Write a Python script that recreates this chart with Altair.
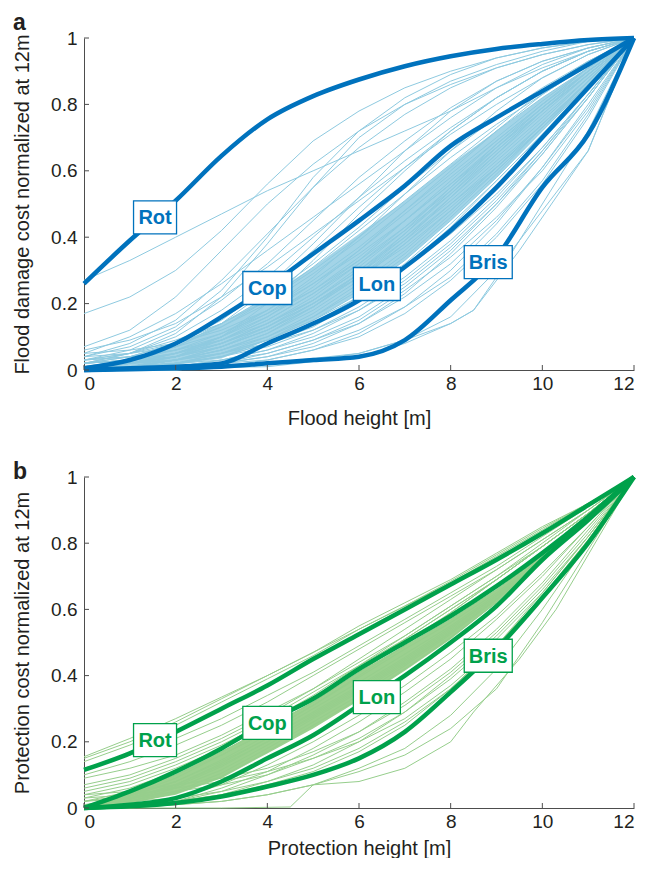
import altair as alt
import pandas as pd

FONT = "Liberation Sans"
XS = list(range(13))

# ---------------- Panel a : flood damage cost ----------------
a_thick = {
    "Rot":  [0.26, 0.39, 0.51, 0.645, 0.755, 0.825, 0.875, 0.915, 0.945, 0.967, 0.982, 0.994, 1.0],
    "Cop":  [0.005, 0.03, 0.08, 0.16, 0.25, 0.35, 0.45, 0.555, 0.675, 0.76, 0.84, 0.92, 1.0],
    "Lon":  [0.0, 0.005, 0.01, 0.02, 0.08, 0.14, 0.21, 0.31, 0.42, 0.55, 0.70, 0.85, 1.0],
    "Bris": [0.0, 0.002, 0.005, 0.01, 0.02, 0.03, 0.04, 0.09, 0.21, 0.34, 0.55, 0.71, 1.0],
}
a_thin = {
    "U1":  [0.27, 0.33, 0.40, 0.47, 0.54, 0.60, 0.66, 0.72, 0.78, 0.85, 0.91, 0.96, 1.0],
    "U2":  [0.17, 0.22, 0.30, 0.42, 0.56, 0.69, 0.78, 0.85, 0.90, 0.94, 0.97, 0.99, 1.0],
    "U3":  [0.07, 0.12, 0.22, 0.36, 0.50, 0.62, 0.72, 0.80, 0.86, 0.91, 0.95, 0.98, 1.0],
    "U4":  [0.04, 0.08, 0.15, 0.27, 0.41, 0.55, 0.67, 0.77, 0.85, 0.91, 0.95, 0.98, 1.0],
    "U5":  [0.05, 0.10, 0.17, 0.26, 0.36, 0.46, 0.56, 0.66, 0.76, 0.85, 0.92, 0.97, 1.0],
    "U6":  [0.03, 0.06, 0.12, 0.21, 0.32, 0.45, 0.58, 0.69, 0.79, 0.87, 0.93, 0.97, 1.0],
    "U7":  [0.02, 0.05, 0.10, 0.18, 0.28, 0.40, 0.52, 0.63, 0.73, 0.82, 0.90, 0.96, 1.0],
    "U8":  [0.06, 0.09, 0.14, 0.22, 0.31, 0.41, 0.51, 0.61, 0.71, 0.80, 0.88, 0.95, 1.0],
    "U9":  [0.01, 0.03, 0.07, 0.14, 0.24, 0.36, 0.49, 0.61, 0.72, 0.82, 0.90, 0.96, 1.0],
    "U10": [0.02, 0.04, 0.08, 0.15, 0.25, 0.38, 0.52, 0.66, 0.78, 0.87, 0.93, 0.97, 1.0],
    "U11": [0.00, 0.01, 0.04, 0.10, 0.20, 0.33, 0.47, 0.60, 0.72, 0.82, 0.90, 0.96, 1.0],
    "U12": [0.03, 0.05, 0.09, 0.14, 0.21, 0.30, 0.40, 0.51, 0.62, 0.73, 0.84, 0.93, 1.0],
    "U13": [0.01, 0.02, 0.05, 0.10, 0.18, 0.28, 0.40, 0.53, 0.66, 0.78, 0.88, 0.95, 1.0],
    "U14": [0.04, 0.07, 0.13, 0.24, 0.40, 0.58, 0.72, 0.82, 0.89, 0.94, 0.97, 0.99, 1.0],
    "U15": [0.02, 0.05, 0.11, 0.22, 0.38, 0.55, 0.70, 0.80, 0.87, 0.92, 0.96, 0.99, 1.0],
    "D1":  [0.00, 0.01, 0.03, 0.07, 0.13, 0.21, 0.30, 0.40, 0.51, 0.63, 0.75, 0.88, 1.0],
    "D2":  [0.01, 0.02, 0.04, 0.08, 0.14, 0.22, 0.32, 0.43, 0.55, 0.67, 0.79, 0.90, 1.0],
    "D3":  [0.00, 0.01, 0.02, 0.05, 0.10, 0.17, 0.26, 0.36, 0.48, 0.61, 0.74, 0.87, 1.0],
    "D4":  [0.02, 0.03, 0.05, 0.09, 0.15, 0.23, 0.33, 0.45, 0.57, 0.69, 0.80, 0.91, 1.0],
    "D5":  [0.00, 0.00, 0.02, 0.04, 0.08, 0.14, 0.22, 0.32, 0.44, 0.57, 0.71, 0.85, 1.0],
    "D6":  [0.01, 0.02, 0.04, 0.07, 0.12, 0.19, 0.28, 0.39, 0.52, 0.65, 0.78, 0.90, 1.0],
    "D7":  [0.00, 0.01, 0.03, 0.06, 0.11, 0.18, 0.27, 0.38, 0.50, 0.62, 0.74, 0.87, 1.0],
    "D8":  [0.03, 0.04, 0.06, 0.10, 0.16, 0.25, 0.36, 0.48, 0.60, 0.72, 0.83, 0.92, 1.0],
    "D9":  [0.00, 0.01, 0.02, 0.04, 0.07, 0.12, 0.19, 0.28, 0.39, 0.52, 0.67, 0.83, 1.0],
    "D10": [0.01, 0.02, 0.05, 0.10, 0.17, 0.26, 0.36, 0.47, 0.58, 0.69, 0.80, 0.90, 1.0],
    "D11": [0.00, 0.01, 0.03, 0.06, 0.10, 0.16, 0.24, 0.34, 0.46, 0.59, 0.73, 0.87, 1.0],
    "D12": [0.02, 0.03, 0.06, 0.11, 0.18, 0.27, 0.37, 0.48, 0.59, 0.70, 0.81, 0.91, 1.0],
    "D13": [0.00, 0.00, 0.01, 0.03, 0.06, 0.11, 0.18, 0.27, 0.38, 0.51, 0.66, 0.82, 1.0],
    "D14": [0.01, 0.02, 0.03, 0.06, 0.11, 0.19, 0.29, 0.41, 0.54, 0.67, 0.79, 0.90, 1.0],
    "D15": [0.00, 0.01, 0.02, 0.05, 0.09, 0.15, 0.23, 0.33, 0.45, 0.58, 0.72, 0.86, 1.0],
    "D16": [0.04, 0.05, 0.07, 0.11, 0.17, 0.24, 0.33, 0.43, 0.54, 0.66, 0.78, 0.89, 1.0],
    "D17": [0.00, 0.01, 0.03, 0.07, 0.12, 0.20, 0.29, 0.39, 0.50, 0.61, 0.73, 0.86, 1.0],
    "D18": [0.01, 0.01, 0.02, 0.04, 0.08, 0.13, 0.21, 0.31, 0.43, 0.57, 0.71, 0.86, 1.0],
    "D19": [0.00, 0.02, 0.05, 0.09, 0.15, 0.23, 0.32, 0.42, 0.53, 0.65, 0.77, 0.89, 1.0],
    "D20": [0.02, 0.03, 0.05, 0.08, 0.13, 0.20, 0.29, 0.40, 0.52, 0.64, 0.76, 0.88, 1.0],
    "D21": [0.00, 0.00, 0.01, 0.02, 0.04, 0.08, 0.14, 0.23, 0.35, 0.49, 0.65, 0.82, 1.0],
    "D22": [0.00, 0.01, 0.02, 0.03, 0.06, 0.10, 0.16, 0.25, 0.36, 0.50, 0.66, 0.83, 1.0],
    "D23": [0.05, 0.06, 0.08, 0.12, 0.18, 0.26, 0.35, 0.45, 0.56, 0.67, 0.78, 0.89, 1.0],
    "D24": [0.01, 0.02, 0.04, 0.08, 0.14, 0.21, 0.30, 0.41, 0.53, 0.66, 0.78, 0.89, 1.0],
    "D25": [0.00, 0.00, 0.01, 0.02, 0.05, 0.09, 0.15, 0.24, 0.34, 0.46, 0.60, 0.78, 1.0],
    "D26": [0.00, 0.00, 0.00, 0.01, 0.03, 0.06, 0.11, 0.19, 0.30, 0.44, 0.61, 0.80, 1.0],
    "D28": [0.00, 0.00, 0.00, 0.01, 0.02, 0.03, 0.05, 0.09, 0.16, 0.30, 0.48, 0.66, 1.0],
    "D30": [0.03, 0.05, 0.08, 0.13, 0.20, 0.29, 0.39, 0.50, 0.61, 0.72, 0.82, 0.91, 1.0],
    "D31": [0.01, 0.03, 0.07, 0.13, 0.21, 0.31, 0.42, 0.53, 0.64, 0.74, 0.83, 0.92, 1.0],
    "D32": [0.02, 0.04, 0.08, 0.14, 0.22, 0.32, 0.43, 0.55, 0.66, 0.76, 0.85, 0.93, 1.0],
    "D33": [0.00, 0.00, 0.01, 0.02, 0.04, 0.07, 0.12, 0.19, 0.28, 0.41, 0.57, 0.77, 1.0],
    "D34": [0.00, 0.01, 0.01, 0.03, 0.05, 0.09, 0.14, 0.22, 0.32, 0.45, 0.61, 0.79, 1.0],
    "D35": [0.00, 0.00, 0.01, 0.02, 0.03, 0.06, 0.10, 0.17, 0.27, 0.40, 0.56, 0.76, 1.0],
    "D36": [0.01, 0.02, 0.03, 0.05, 0.08, 0.12, 0.18, 0.26, 0.37, 0.50, 0.65, 0.82, 1.0],
    "D37": [0.03, 0.04, 0.06, 0.09, 0.14, 0.21, 0.31, 0.42, 0.55, 0.68, 0.80, 0.91, 1.0],
    "D38": [0.00, 0.01, 0.02, 0.04, 0.09, 0.16, 0.25, 0.35, 0.47, 0.60, 0.73, 0.87, 1.0],
    "D39": [0.02, 0.03, 0.04, 0.07, 0.12, 0.19, 0.28, 0.38, 0.49, 0.61, 0.74, 0.87, 1.0],
    "D40": [0.01, 0.01, 0.03, 0.05, 0.09, 0.15, 0.22, 0.31, 0.41, 0.53, 0.67, 0.83, 1.0],
    "D41": [0.00, 0.02, 0.04, 0.08, 0.13, 0.20, 0.28, 0.37, 0.48, 0.60, 0.73, 0.87, 1.0],
    "D42": [0.01, 0.02, 0.04, 0.09, 0.16, 0.24, 0.34, 0.45, 0.56, 0.68, 0.79, 0.90, 1.0],
}
# thin lines with their own x positions
a_thin_x = {
    "D27": ([0, 2, 4, 6, 7, 8, 8.5, 9, 10, 11, 12],
            [0.0, 0.005, 0.02, 0.05, 0.09, 0.14, 0.18, 0.28, 0.50, 0.72, 1.0]),
    "D29": ([0, 4, 6, 7, 8, 8.5, 9.5, 11, 12],
            [0.0, 0.01, 0.04, 0.08, 0.14, 0.18, 0.36, 0.66, 1.0]),
}
# densely packed strip of curves between Cop and Lon
a_band_hi = [0.005, 0.025, 0.07, 0.14, 0.22, 0.31, 0.41, 0.51, 0.62, 0.72, 0.82, 0.91, 1.0]
a_band_lo = [0.0, 0.005, 0.015, 0.035, 0.09, 0.15, 0.23, 0.33, 0.45, 0.58, 0.72, 0.86, 1.0]
a_labels = {"Rot": (1.55, 0.46), "Cop": (4.0, 0.247), "Lon": (6.39, 0.259), "Bris": (8.82, 0.325)}

# ---------------- Panel b : protection cost ----------------
b_thick = {
    "Rot":  [0.115, 0.165, 0.23, 0.30, 0.37, 0.45, 0.525, 0.60, 0.675, 0.75, 0.83, 0.915, 1.0],
    "Cop":  [0.0, 0.05, 0.11, 0.18, 0.26, 0.33, 0.42, 0.50, 0.58, 0.67, 0.77, 0.88, 1.0],
    "Lon":  [0.0, 0.01, 0.03, 0.08, 0.15, 0.22, 0.31, 0.40, 0.50, 0.61, 0.75, 0.87, 1.0],
    "Bris": [0.0, 0.005, 0.015, 0.035, 0.065, 0.10, 0.15, 0.23, 0.35, 0.48, 0.635, 0.80, 1.0],
}
b_thin = {
    "P1":  [0.15, 0.20, 0.26, 0.33, 0.40, 0.47, 0.55, 0.62, 0.69, 0.77, 0.85, 0.92, 1.0],
    "P2":  [0.14, 0.19, 0.25, 0.32, 0.39, 0.46, 0.54, 0.61, 0.685, 0.765, 0.845, 0.92, 1.0],
    "P3":  [0.155, 0.21, 0.27, 0.335, 0.40, 0.47, 0.54, 0.61, 0.68, 0.76, 0.84, 0.92, 1.0],
    "P4":  [0.09, 0.12, 0.16, 0.22, 0.29, 0.36, 0.44, 0.52, 0.61, 0.70, 0.79, 0.89, 1.0],
    "P5":  [0.07, 0.10, 0.15, 0.21, 0.28, 0.36, 0.45, 0.54, 0.63, 0.72, 0.81, 0.90, 1.0],
    "P6":  [0.05, 0.08, 0.13, 0.19, 0.26, 0.34, 0.43, 0.52, 0.61, 0.70, 0.80, 0.90, 1.0],
    "P7":  [0.04, 0.07, 0.12, 0.18, 0.25, 0.33, 0.42, 0.51, 0.60, 0.69, 0.79, 0.89, 1.0],
    "P8":  [0.03, 0.06, 0.11, 0.17, 0.24, 0.32, 0.41, 0.50, 0.59, 0.69, 0.79, 0.89, 1.0],
    "P9":  [0.10, 0.14, 0.19, 0.25, 0.32, 0.40, 0.48, 0.56, 0.64, 0.72, 0.81, 0.90, 1.0],
    "P10": [0.02, 0.05, 0.10, 0.16, 0.23, 0.31, 0.40, 0.49, 0.59, 0.69, 0.79, 0.89, 1.0],
    "P11": [0.12, 0.16, 0.21, 0.27, 0.34, 0.41, 0.49, 0.57, 0.65, 0.73, 0.82, 0.91, 1.0],
    "P12": [0.06, 0.09, 0.14, 0.20, 0.27, 0.35, 0.43, 0.51, 0.60, 0.69, 0.79, 0.89, 1.0],
    "B1":  [0.0, 0.045, 0.10, 0.17, 0.245, 0.32, 0.41, 0.49, 0.57, 0.66, 0.76, 0.875, 1.0],
    "B2":  [0.0, 0.04, 0.09, 0.16, 0.23, 0.31, 0.395, 0.48, 0.56, 0.65, 0.755, 0.87, 1.0],
    "B3":  [0.0, 0.035, 0.08, 0.145, 0.22, 0.30, 0.38, 0.465, 0.55, 0.645, 0.75, 0.87, 1.0],
    "B4":  [0.0, 0.03, 0.07, 0.135, 0.21, 0.29, 0.37, 0.455, 0.545, 0.64, 0.75, 0.87, 1.0],
    "B5":  [0.0, 0.025, 0.065, 0.125, 0.20, 0.28, 0.36, 0.445, 0.535, 0.635, 0.75, 0.87, 1.0],
    "B6":  [0.0, 0.02, 0.06, 0.115, 0.19, 0.27, 0.35, 0.435, 0.53, 0.63, 0.75, 0.87, 1.0],
    "B7":  [0.0, 0.02, 0.05, 0.105, 0.18, 0.26, 0.34, 0.43, 0.525, 0.63, 0.75, 0.87, 1.0],
    "B8":  [0.0, 0.015, 0.045, 0.095, 0.17, 0.25, 0.33, 0.42, 0.515, 0.62, 0.75, 0.87, 1.0],
    "B9":  [0.01, 0.03, 0.07, 0.13, 0.20, 0.275, 0.355, 0.44, 0.53, 0.63, 0.745, 0.87, 1.0],
    "B10": [0.02, 0.04, 0.08, 0.14, 0.21, 0.285, 0.365, 0.45, 0.54, 0.64, 0.75, 0.87, 1.0],
    "L1":  [0.0, 0.01, 0.03, 0.07, 0.13, 0.20, 0.28, 0.37, 0.47, 0.58, 0.71, 0.85, 1.0],
    "L2":  [0.0, 0.01, 0.02, 0.06, 0.11, 0.18, 0.26, 0.35, 0.45, 0.57, 0.70, 0.85, 1.0],
    "L3":  [0.0, 0.01, 0.02, 0.05, 0.10, 0.16, 0.23, 0.32, 0.42, 0.54, 0.68, 0.84, 1.0],
    "L4":  [0.0, 0.01, 0.02, 0.04, 0.08, 0.13, 0.20, 0.29, 0.40, 0.52, 0.66, 0.82, 1.0],
    "L5":  [0.02, 0.03, 0.05, 0.07, 0.10, 0.15, 0.21, 0.29, 0.39, 0.51, 0.65, 0.82, 1.0],
    "L6":  [0.03, 0.04, 0.06, 0.08, 0.11, 0.15, 0.20, 0.27, 0.37, 0.49, 0.64, 0.81, 1.0],
    "L7":  [0.01, 0.02, 0.03, 0.05, 0.08, 0.12, 0.18, 0.26, 0.36, 0.49, 0.64, 0.81, 1.0],
    "L8":  [0.0, 0.005, 0.02, 0.04, 0.07, 0.11, 0.17, 0.25, 0.36, 0.49, 0.65, 0.82, 1.0],
    "L9":  [0.04, 0.05, 0.07, 0.09, 0.12, 0.17, 0.23, 0.31, 0.41, 0.53, 0.67, 0.83, 1.0],
    "K2":  [0.0, 0.0, 0.01, 0.02, 0.04, 0.07, 0.11, 0.16, 0.24, 0.36, 0.56, 0.78, 1.0],
    "K3":  [0.0, 0.003, 0.01, 0.02, 0.04, 0.07, 0.12, 0.18, 0.28, 0.42, 0.60, 0.80, 1.0],
}
b_thin_x = {
    "K1": ([0, 3, 4.5, 5, 6, 7, 8, 8.5, 9.5, 10.3, 12],
           [0.0, 0.0, 0.003, 0.07, 0.08, 0.12, 0.20, 0.29, 0.45, 0.60, 1.0]),
}
# densely packed strip of curves between Cop and Lon
b_band_hi = [0.0, 0.045, 0.10, 0.17, 0.245, 0.32, 0.41, 0.49, 0.57, 0.66, 0.76, 0.875, 1.0]
b_band_lo = [0.0, 0.015, 0.04, 0.09, 0.165, 0.24, 0.325, 0.415, 0.51, 0.62, 0.75, 0.87, 1.0]
b_labels = {"Rot": (1.55, 0.205), "Cop": (4.0, 0.257), "Lon": (6.39, 0.335), "Bris": (8.82, 0.46)}

X_TICKS = [0, 2, 4, 6, 8, 10, 12]
Y_TICKS = [0, 0.2, 0.4, 0.6, 0.8, 1.0]

# ---------------- styling ----------------
W = 550
AXIS_COLOR = "#4d4d4d"
TEXT_COLOR = "#231f20"
BOX_PX = {"Rot": 43, "Cop": 49, "Lon": 47, "Bris": 48}
BOX_H_PX = 33


def lines_df(fixed, custom):
    rows = []
    for name, ys in fixed.items():
        for x, y in zip(XS, ys):
            rows.append({"series": name, "x": x, "y": y})
    for name, (xs, ys) in custom.items():
        for x, y in zip(xs, ys):
            rows.append({"series": name, "x": x, "y": y})
    return pd.DataFrame(rows)


def panel(thin, thin_x, thick, labels, band, thin_color, thick_color, band_color,
          xtitle, ytitle, letter, letter_y, H, x_title_pad):
    xscale = alt.Scale(domain=[0, 12], nice=False, zero=False)
    yscale = alt.Scale(domain=[0, 1], nice=False)
    x_axis = alt.Axis(values=X_TICKS, title=xtitle, ticks=False, grid=False,
                      labelPadding=4, titlePadding=x_title_pad)
    y_axis = alt.Axis(values=Y_TICKS, title=ytitle, ticks=False, grid=False, format="~g",
                      labelPadding=7, titlePadding=18.5)

    def X(f):
        return alt.X(f, scale=xscale, axis=x_axis)

    def Y(f):
        return alt.Y(f, scale=yscale, axis=y_axis)

    layers = []
    lo, hi = band
    band_df = pd.DataFrame({"x": XS, "lo": lo, "hi": hi})
    layers.append(alt.Chart(band_df).mark_area(color=band_color, opacity=1).encode(
        x=X("x:Q"), y=Y("lo:Q"), y2="hi:Q",
    ))
    thin_df = lines_df(thin, thin_x)
    layers.append(alt.Chart(thin_df).mark_line(strokeWidth=1, color=thin_color).encode(
        x=X("x:Q"), y=Y("y:Q"), detail="series:N", order="x:Q",
    ))

    thick_df = lines_df(thick, {})
    layers.append(alt.Chart(thick_df).mark_line(strokeWidth=4.5, color=thick_color,
                                                 interpolate="monotone").encode(
        x=X("x:Q"), y=Y("y:Q"), detail="series:N", order="x:Q",
    ))

    lab_rows = []
    for name, (cx, cy) in labels.items():
        hw = BOX_PX[name] / 2 / (W / 12)
        hh = BOX_H_PX / 2 / H
        lab_rows.append({"label": name, "x": cx, "y": cy,
                         "x0": cx - hw, "x1": cx + hw, "y0": cy - hh, "y1": cy + hh})
    lab_df = pd.DataFrame(lab_rows)
    layers.append(alt.Chart(lab_df).mark_rect(fill="white", stroke=thick_color,
                                               strokeWidth=1.3).encode(
        x=X("x0:Q"), x2="x1:Q", y=Y("y0:Q"), y2="y1:Q",
    ))
    layers.append(alt.Chart(lab_df).mark_text(font=FONT, fontSize=20, fontWeight="bold",
                                               color=thick_color, baseline="middle",
                                               align="center", dy=1).encode(
        x=X("x:Q"), y=Y("y:Q"), text="label:N",
    ))

    # inward tick marks
    layers.append(alt.Chart(pd.DataFrame({"t": X_TICKS})).mark_rule(
        color=AXIS_COLOR, strokeWidth=1).encode(
        x=X("t:Q"), y=alt.value(H), y2=alt.value(H - 5),
    ))
    layers.append(alt.Chart(pd.DataFrame({"t": Y_TICKS})).mark_rule(
        color=AXIS_COLOR, strokeWidth=1).encode(
        y=Y("t:Q"), x=alt.value(0), x2=alt.value(5),
    ))
    layers.append(alt.Chart(pd.DataFrame({"t": [letter]})).mark_text(
        font=FONT, fontSize=23, fontWeight="bold", color=TEXT_COLOR,
        align="left", baseline="top").encode(
        x=alt.value(-71), y=alt.value(letter_y), text="t:N",
    ))

    return alt.layer(*layers).properties(width=W, height=H)


pa = panel(a_thin, a_thin_x, a_thick, a_labels, (a_band_lo, a_band_hi),
           "#8ECAE0", "#0072BD", "#A3D4E7",
           "Flood height [m]", "Flood damage cost normalized at 12m", "a", -26, 332, 15)
pb = panel(b_thin, b_thin_x, b_thick, b_labels, (b_band_lo, b_band_hi),
           "#96CE8C", "#00A14B", "#9BD08F",
           "Protection height [m]", "Protection cost normalized at 12m", "b", -16, 331, 7)

chart = alt.vconcat(pa, pb, spacing=33).properties(
    padding={"left": 4, "top": 4, "right": 0, "bottom": 0}
).configure_view(stroke=None).configure_axis(
    domainColor=AXIS_COLOR, domainWidth=1,
    labelFont=FONT, labelFontSize=19, labelColor=TEXT_COLOR,
    titleFont=FONT, titleFontSize=20, titleFontWeight="normal", titleColor=TEXT_COLOR,
)

chart.save("out.html", embed_options={"renderer": "svg", "actions": False})
